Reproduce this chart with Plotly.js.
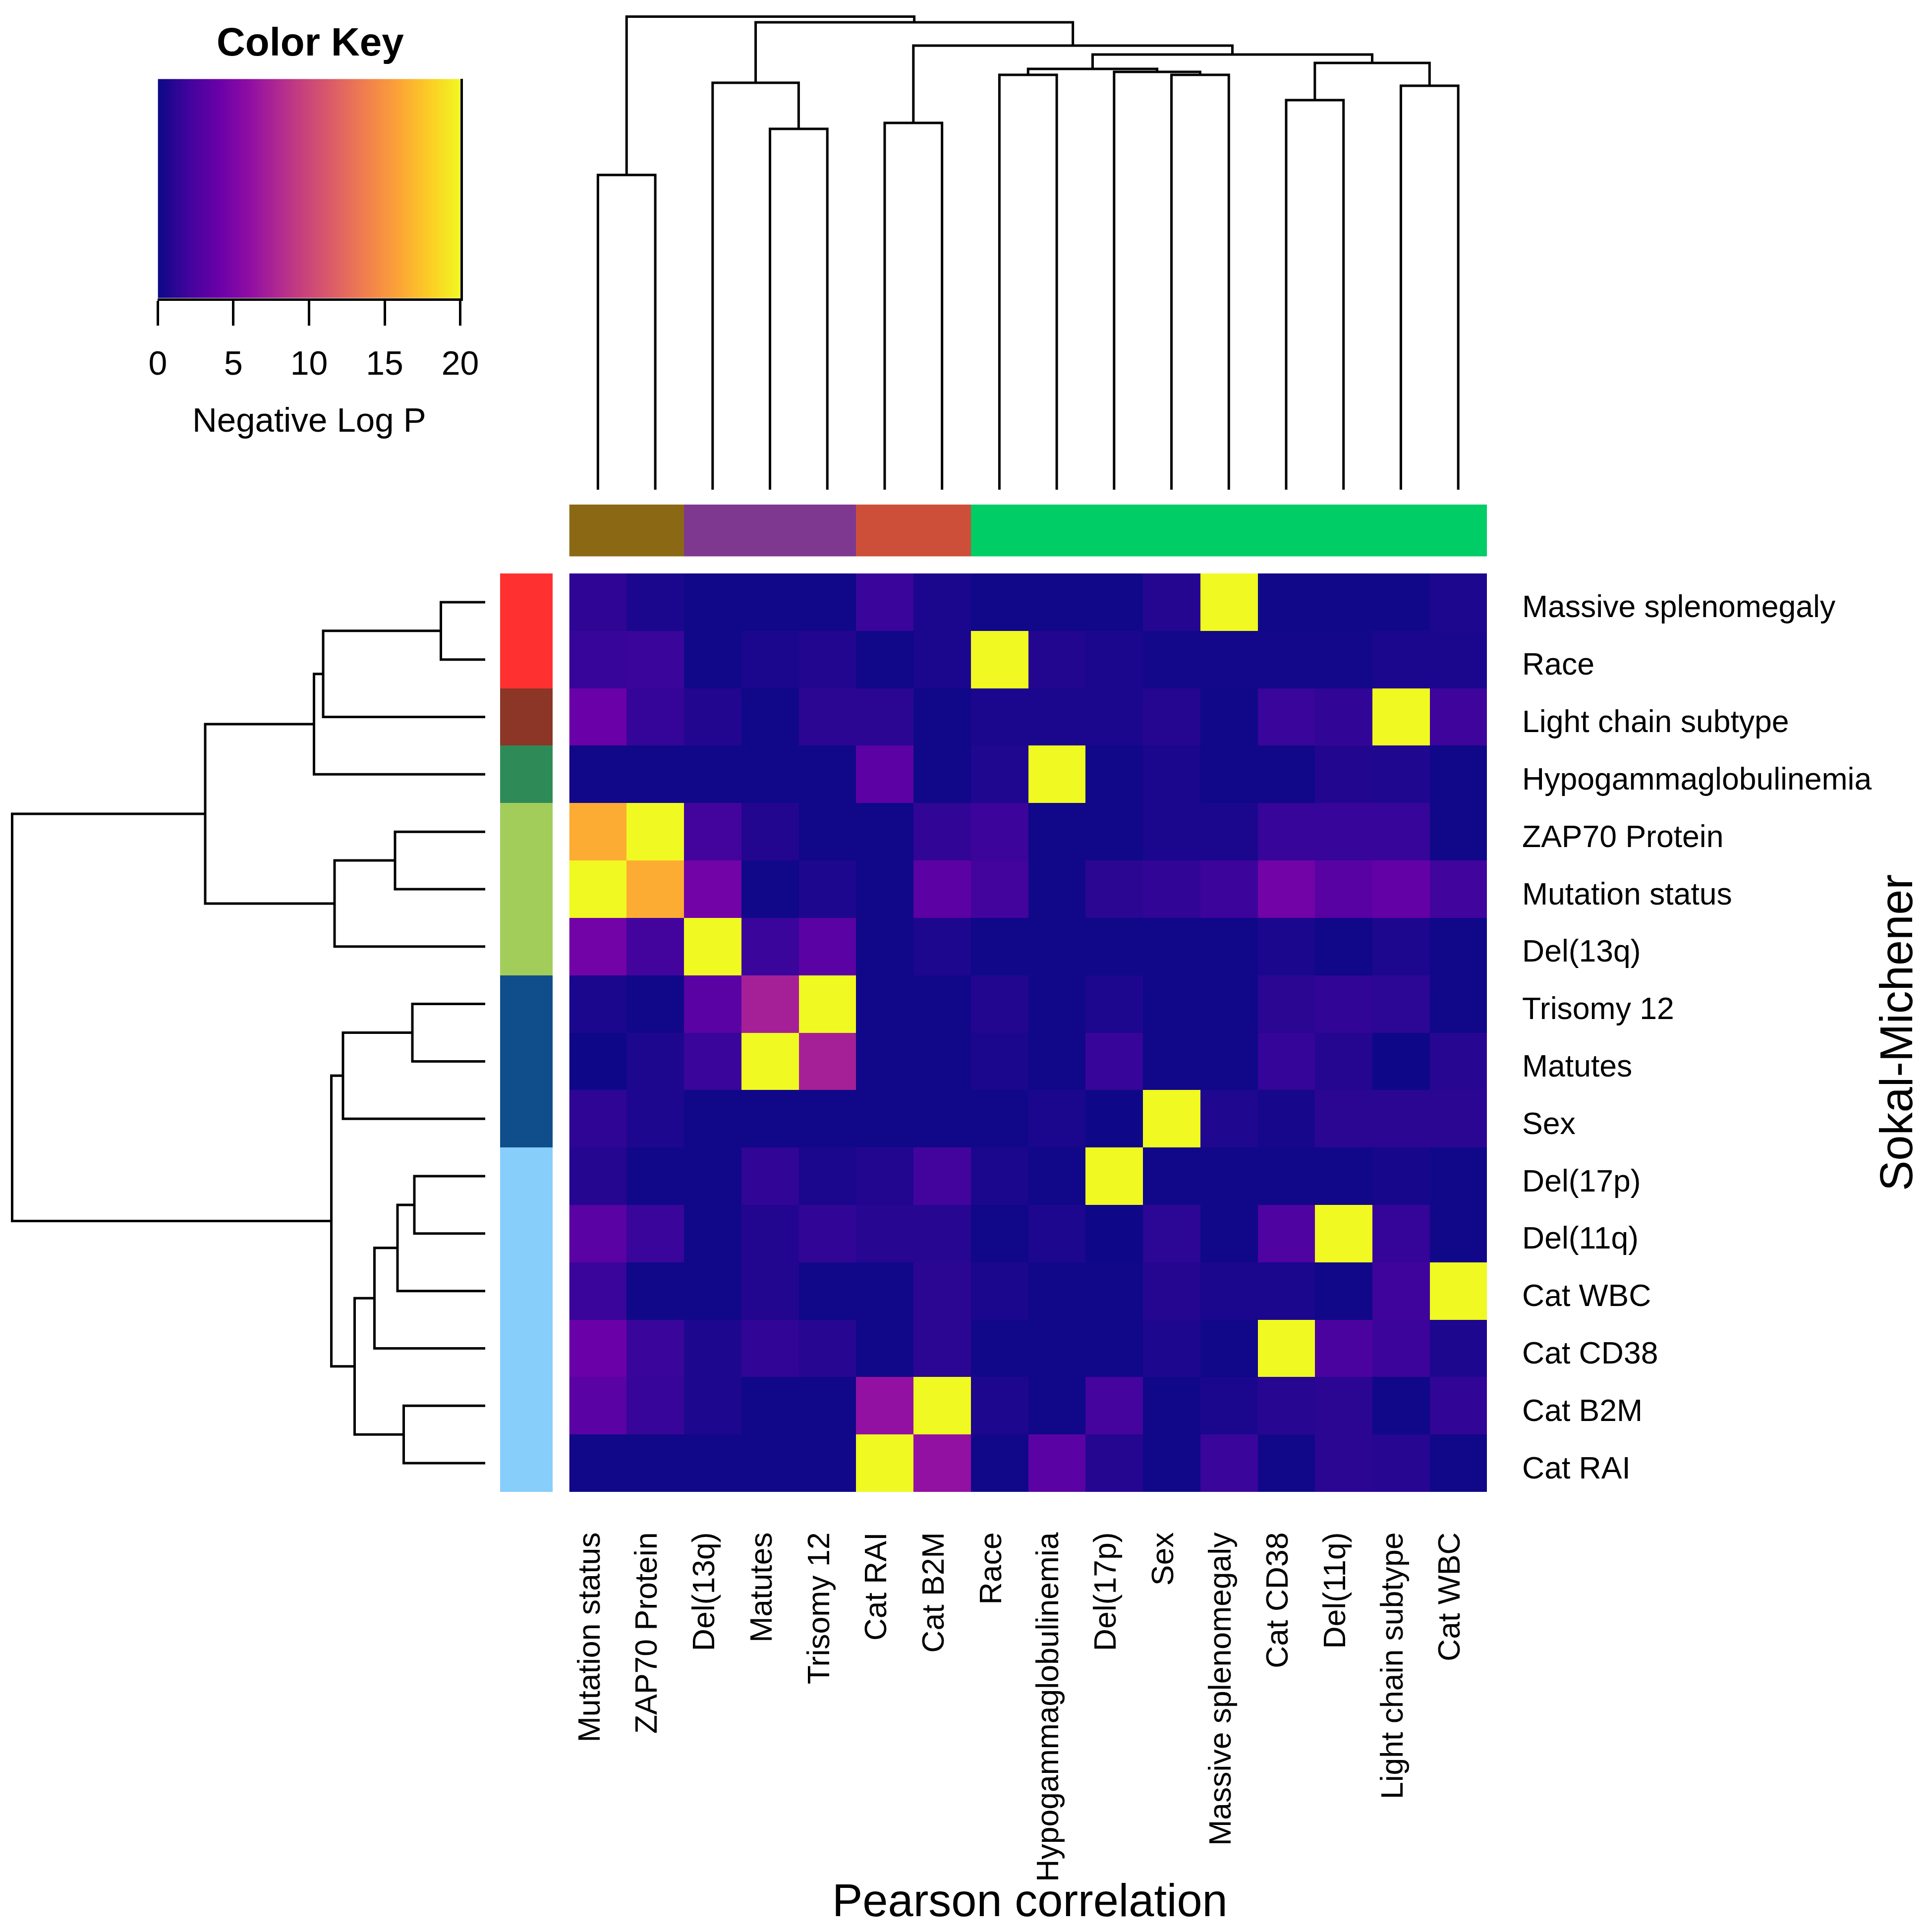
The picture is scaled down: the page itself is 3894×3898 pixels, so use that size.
<!DOCTYPE html>
<html><head><meta charset="utf-8">
<script src="https://cdn.plot.ly/plotly-3.0.1.min.js"></script>
<style>html,body{margin:0;padding:0;background:#fff}#chart{width:3894px;height:3898px}</style>
</head><body><div id="chart"></div><script>
// ---------- DATA ----------
const colLabels = ["Mutation status","ZAP70 Protein","Del(13q)","Matutes","Trisomy 12","Cat RAI","Cat B2M","Race","Hypogammaglobulinemia","Del(17p)","Sex","Massive splenomegaly","Cat CD38","Del(11q)","Light chain subtype","Cat WBC"];
const rowLabels = ["Massive splenomegaly","Race","Light chain subtype","Hypogammaglobulinemia","ZAP70 Protein","Mutation status","Del(13q)","Trisomy 12","Matutes","Sex","Del(17p)","Del(11q)","Cat WBC","Cat CD38","Cat B2M","Cat RAI"];
// Negative log P, rows in display order (top to bottom), columns in display order (left to right)
const negLogP = [
  [1.3, 0.5, 0.1, 0.1, 0.1, 1.7, 0.5, 0.1, 0.1, 0.1, 0.9, 20, 0.1, 0.1, 0.15, 0.6],
  [1.6, 1.7, 0.1, 0.5, 0.8, 0.1, 0.5, 20, 0.8, 0.5, 0.2, 0.2, 0.2, 0.2, 0.5, 0.5],
  [4.0, 1.5, 0.8, 0.1, 1.1, 1.1, 0.1, 0.5, 0.5, 0.5, 0.9, 0.1, 1.7, 1.4, 20, 1.9],
  [0.1, 0.1, 0.1, 0.1, 0.1, 3.3, 0.1, 0.7, 20, 0.1, 0.5, 0.1, 0.1, 0.8, 0.7, 0.1],
  [16.3, 20, 2.1, 0.8, 0.1, 0.1, 1.4, 1.8, 0.1, 0.1, 0.5, 0.5, 1.6, 1.6, 1.6, 0.1],
  [20, 16.3, 4.4, 0.1, 0.6, 0.1, 3.3, 2.1, 0.1, 1.1, 1.4, 1.8, 4.4, 3.1, 3.7, 2.0],
  [4.4, 2.1, 20, 1.7, 3.2, 0.1, 0.6, 0.1, 0.1, 0.1, 0.1, 0.1, 0.5, 0.1, 0.6, 0.1],
  [0.5, 0.1, 3.2, 7.3, 20, 0.1, 0.1, 0.8, 0.1, 0.6, 0.1, 0.1, 1.1, 1.4, 1.2, 0.1],
  [0.05, 0.6, 1.7, 20, 7.3, 0.1, 0.1, 0.5, 0.1, 1.6, 0.1, 0.1, 1.5, 0.9, 0.05, 1.0],
  [1.3, 0.6, 0.1, 0.1, 0.1, 0.1, 0.1, 0.1, 0.5, 0.05, 20, 0.7, 0.4, 1.1, 1.1, 1.1],
  [0.9, 0.1, 0.1, 1.4, 0.5, 0.8, 2.1, 0.5, 0.1, 20, 0.1, 0.1, 0.1, 0.1, 0.4, 0.1],
  [3.2, 1.7, 0.1, 0.8, 1.4, 1.0, 1.0, 0.1, 0.6, 0.05, 1.2, 0.1, 2.7, 20, 1.5, 0.1],
  [1.7, 0.1, 0.1, 0.8, 0.1, 0.1, 1.1, 0.5, 0.1, 0.1, 0.9, 0.5, 0.5, 0.1, 1.9, 20],
  [4.0, 1.7, 0.6, 1.4, 1.0, 0.1, 1.1, 0.1, 0.1, 0.1, 0.6, 0.1, 20, 2.5, 1.8, 0.6],
  [3.2, 1.6, 0.6, 0.1, 0.1, 6.2, 20, 0.6, 0.1, 2.2, 0.1, 0.5, 1.0, 1.1, 0.1, 1.4],
  [0.1, 0.1, 0.1, 0.1, 0.1, 20, 6.2, 0.1, 3.2, 0.9, 0.1, 1.7, 0.1, 1.1, 1.0, 0.1]
];
// Column dendrogram (hclust-style merges: negative = leaf position 1..16, positive = earlier merge)
const colMerges = [[-1,-2],[-4,-5],[-6,-7],[-13,-14],[-15,-16],[-3,2],[-8,-9],[-11,-12],[-10,8],[7,9],[4,5],[10,11],[3,12],[6,13],[1,14]];
const colHeights = [6.35,7.28,7.40,7.86,8.15,8.21,8.37,8.37,8.43,8.49,8.61,8.78,8.96,9.43,9.545];
// Row dendrogram
const rowMerges = [[-1,-2],[-11,-12],[-8,-9],[-15,-16],[2,-13],[-5,-6],[5,-14],[7,4],[3,-10],[6,-7],[9,8],[1,-3],[12,-4],[13,10],[14,11]];
const rowHeights = [0.895,1.43,1.47,1.645,1.77,1.82,2.235,2.635,2.87,3.04,3.105,3.27,3.455,5.65,9.545];
// Side colour groups
const colGroup = [0,0,1,1,1,2,2,3,3,3,3,3,3,3,3,3];
const colGroupColors = ["#8B6914","#7E3890","#CD4F39","#00CD66"];
const rowGroup = [0,0,1,2,3,3,3,4,4,4,5,5,5,5,5,5];
const rowGroupColors = ["#FF3030","#8B3626","#2E8B57","#A2CD5A","#104E8B","#87CEFA"];
// Colour key
const keyTicks = [0,5,10,15,20];
const plasmaStops = ["#0d0887","#41049d","#6a00a8","#8f0da4","#b12a90","#cc4778","#e16462","#f2844b","#fca636","#fcce25","#f0f921"];

// ---------- BUILD ----------
const W = 3894, H = 3898;
const px = v => v / W, py = v => 1 - v / H;
const FONT = "Liberation Sans, Arial, sans-serif";
const idx = colLabels.map((_, i) => i);
const ridx = rowLabels.map((_, i) => i);
const plasma = plasmaStops.map((c, i) => [i / (plasmaStops.length - 1), c]);
const discrete = cols => cols.map((c, i) => [cols.length > 1 ? i / (cols.length - 1) : 0, c]);

function dendro(merges, heights) {
  const pos = [], hh = [], p = [], h = [];
  merges.forEach(([a, b], i) => {
    const pa = a < 0 ? -a - 1 : pos[a - 1], ha = a < 0 ? 0 : hh[a - 1];
    const pb = b < 0 ? -b - 1 : pos[b - 1], hb = b < 0 ? 0 : hh[b - 1];
    const Hm = heights[i];
    p.push(pa, pa, pb, pb, null);
    h.push(ha, Hm, Hm, hb, null);
    pos[i] = (pa + pb) / 2; hh[i] = Hm;
  });
  return {p, h};
}
const cd = dendro(colMerges, colHeights);
const rd = dendro(rowMerges, rowHeights);

const heatX = [px(1148.5), px(3000)];
const heatY = [py(3010), py(1157)];
const colLabelShift = 0.147;  // label offset in cell units (text sits slightly left of cell centre)
const rowLabelShift = 0.075;  // label offset in cell units (text sits slightly below cell centre)

const traces = [
  {type: 'heatmap', z: negLogP, x: idx, y: ridx, colorscale: plasma, zmin: 0, zmax: 20,
   showscale: false, xaxis: 'x', yaxis: 'y', hoverinfo: 'skip'},
  {type: 'heatmap', z: [colGroup], x: idx, y: [0], colorscale: discrete(colGroupColors),
   zmin: 0, zmax: colGroupColors.length - 1, showscale: false, xaxis: 'x2', yaxis: 'y2', hoverinfo: 'skip'},
  {type: 'scatter', mode: 'lines', x: cd.p, y: cd.h, line: {color: '#000', width: 5},
   xaxis: 'x3', yaxis: 'y3', hoverinfo: 'skip', connectgaps: false},
  {type: 'scatter', mode: 'lines', x: rd.h, y: rd.p, line: {color: '#000', width: 5},
   xaxis: 'x4', yaxis: 'y4', hoverinfo: 'skip', connectgaps: false},
  {type: 'heatmap', z: rowGroup.map(g => [g]), x: [0], y: ridx, colorscale: discrete(rowGroupColors),
   zmin: 0, zmax: rowGroupColors.length - 1, showscale: false, xaxis: 'x5', yaxis: 'y5', hoverinfo: 'skip'},
  {type: 'heatmap', z: [keyTicks, keyTicks], x: keyTicks, y: [0, 1], zsmooth: 'best',
   colorscale: plasma, zmin: 0, zmax: 20, showscale: false, xaxis: 'x6', yaxis: 'y6', hoverinfo: 'skip'},
  // invisible carrier so the label axes (x7/y7) get drawn
  {type: 'scatter', mode: 'markers', x: idx, y: ridx, marker: {opacity: 0, size: 1},
   xaxis: 'x7', yaxis: 'y7', hoverinfo: 'skip'}
];

const hidden = {visible: false, showgrid: false, zeroline: false, fixedrange: true};
const layout = {
  width: W, height: H, margin: {l: 0, r: 0, t: 0, b: 0, pad: 0},
  paper_bgcolor: '#fff', plot_bgcolor: 'rgba(0,0,0,0)',
  font: {family: FONT, color: '#000'}, showlegend: false,
  xaxis: Object.assign({domain: heatX, range: [-0.5, 15.5], anchor: 'y'}, hidden),
  yaxis: Object.assign({domain: heatY, range: [15.5, -0.5], anchor: 'x'}, hidden),
  // label axes sharing the heatmap's box
  xaxis7: {domain: heatX, anchor: 'y7', side: 'bottom', range: [-0.5 + colLabelShift, 15.5 + colLabelShift],
           tickmode: 'array', tickvals: idx, ticktext: colLabels, tickangle: -90, ticks: '',
           showgrid: false, zeroline: false, showline: false,
           tickfont: {size: 62.5, family: FONT, color: '#000'}, ticklabelstandoff: 68, fixedrange: true},
  yaxis7: {domain: heatY, anchor: 'x7', side: 'right', range: [15.5 - rowLabelShift, -0.5 - rowLabelShift],
           tickmode: 'array', tickvals: ridx, ticktext: rowLabels, ticks: '',
           showgrid: false, zeroline: false, showline: false,
           tickfont: {size: 62.5, family: FONT, color: '#000'}, ticklabelstandoff: 70, fixedrange: true},
  xaxis2: Object.assign({domain: heatX, range: [-0.5, 15.5], anchor: 'y2'}, hidden),
  yaxis2: Object.assign({domain: [py(1122.5), py(1018)], range: [-0.5, 0.5], anchor: 'x2'}, hidden),
  xaxis3: Object.assign({domain: heatX, range: [-0.5, 15.5], anchor: 'y3'}, hidden),
  yaxis3: Object.assign({domain: [py(988), 1], range: [0, 9.88], anchor: 'x3'}, hidden),
  xaxis4: Object.assign({domain: [0, px(979)], range: [9.79, 0], anchor: 'y4'}, hidden),
  yaxis4: Object.assign({domain: heatY, range: [15.5, -0.5], anchor: 'x4'}, hidden),
  xaxis5: Object.assign({domain: [px(1009), px(1115)], range: [-0.5, 0.5], anchor: 'y5'}, hidden),
  yaxis5: Object.assign({domain: heatY, range: [15.5, -0.5], anchor: 'x5'}, hidden),
  xaxis6: {domain: [px(318.4), px(928.6)], range: [0, 20], anchor: 'y6', tickmode: 'array', tickvals: keyTicks,
           ticks: 'outside', ticklen: 50, tickwidth: 5, tickcolor: '#000', showline: true, linewidth: 5, linecolor: '#000',
           showgrid: false, zeroline: false, tickfont: {size: 68, family: FONT, color: '#000'}, ticklabelstandoff: 18, fixedrange: true},
  yaxis6: {domain: [py(601.6), py(159.3)], range: [0, 1], anchor: 'x6', side: 'right', showline: true, linewidth: 5,
           linecolor: '#000', ticks: '', showticklabels: false, showgrid: false, zeroline: false, fixedrange: true},
  annotations: [
    {text: '<b>Color Key</b>', x: px(626), y: py(85), xref: 'paper', yref: 'paper', xanchor: 'center', yanchor: 'middle',
     showarrow: false, font: {size: 80, family: FONT, color: '#000'}},
    {text: 'Negative Log P', x: px(623.5), y: py(848), xref: 'paper', yref: 'paper', xanchor: 'center', yanchor: 'middle',
     showarrow: false, font: {size: 69, family: FONT, color: '#000'}},
    {text: 'Pearson correlation', x: px(2078), y: py(3834), xref: 'paper', yref: 'paper', xanchor: 'center', yanchor: 'middle',
     showarrow: false, font: {size: 92, family: FONT, color: '#000'}},
    {text: 'Sokal-Michener', x: px(3826), y: py(2084), xref: 'paper', yref: 'paper', xanchor: 'center', yanchor: 'middle',
     textangle: -90, showarrow: false, font: {size: 92, family: FONT, color: '#000'}}
  ]
};
Plotly.newPlot('chart', traces, layout, {staticPlot: true, displayModeBar: false, responsive: false});
</script></body></html>
